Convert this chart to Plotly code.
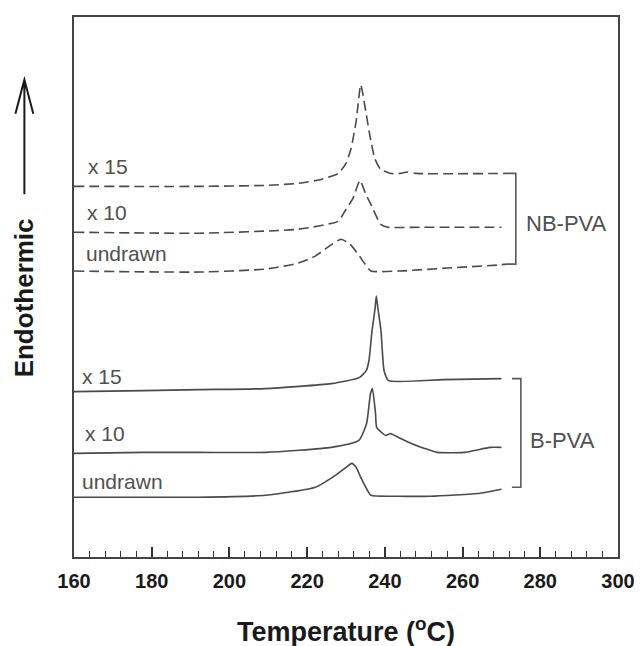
import plotly.graph_objects as go

# ---- data (temperature in degC, heat flow in arbitrary units, curves offset) ----
nb15_t = [160, 192.2, 209.3, 217.7, 223.6, 228.0, 230.0, 231.3, 232.6, 233.8, 235.1, 236.1, 237.4, 238.9, 241.5, 244, 245.8, 248, 271.4]
nb15_y = [372, 372, 373, 375, 379, 385, 395, 410, 437, 474, 447, 424, 400, 389, 385, 385, 386.5, 385, 385]

nb10_t = [160, 192.2, 217.7, 228.0, 229.7, 231.8, 233.6, 235.1, 236.4, 238.9, 240.7, 250, 270]
nb10_y = [326, 325, 329, 337, 347, 360, 378, 364, 354, 334, 331, 331, 331]

nbun_t = [160, 192.2, 209.3, 217.7, 222.1, 224.6, 228.7, 231.0, 233.1, 234.9, 236.4, 243.3, 256.1, 268.8, 271.4]
nbun_y = [287, 286, 289, 295, 302, 309, 319, 314, 304, 294, 287, 287, 290, 293, 294]

b15_t = [160, 178, 192.2, 209.3, 226.2, 233.4, 235.2, 235.9, 236.7, 237.5, 237.8, 238.2, 239.0, 239.8, 241.0, 255, 270]
b15_y = [166, 167, 168, 169, 174, 180, 187, 197, 227, 250, 262, 250, 227, 187, 177, 178, 179]

b10_t = [160, 178, 192.2, 209.3, 226.2, 233.3, 235.3, 236.3, 236.8, 237.6, 237.9, 240.2, 241.4, 243.5, 246.8, 250.2, 253.5, 260.4, 267.1, 270]
b10_y = [104, 105, 105, 105, 110, 117, 134, 164, 169, 144, 130, 122, 124, 120, 114, 109, 105, 105, 110, 110]

bun_t = [160, 192.2, 209.3, 222.1, 228.0, 230.0, 231.5, 232.6, 233.8, 235.1, 236.4, 243.3, 251.7, 264.5, 270]
bun_y = [60, 60, 62, 70, 84, 90, 94, 90, 80, 70, 62, 61, 61, 64, 68]

# group brackets
nb_bracket_t = [271.4, 273.7, 273.7, 271.4]
nb_bracket_y = [385, 385, 294, 294]
b_bracket_t = [272.7, 275.0, 275.0, 272.7]
b_bracket_y = [179, 179, 70, 70]

# curve labels
curve_labels = ["x 15", "x 10", "undrawn", "x 15", "x 10", "undrawn"]
curve_label_t = [163.0, 162.8, 162.6, 161.6, 162.3, 161.6]
curve_label_y = [392, 346, 305, 181, 124, 76]

group_labels = ["NB-PVA", "B-PVA"]
group_label_t = [275.8, 276.8]
group_label_y = [335, 117]

x_ticks = [160, 180, 200, 220, 240, 260, 280, 300]

LINE = "#4a4a4a"
FONT = "Liberation Sans, Arial, sans-serif"

fig = go.Figure()
for t, y, dash in [(nb15_t, nb15_y, "10px,5px"), (nb10_t, nb10_y, "10px,5px"), (nbun_t, nbun_y, "10px,5px"),
                   (b15_t, b15_y, "solid"), (b10_t, b10_y, "solid"), (bun_t, bun_y, "solid")]:
    fig.add_trace(go.Scatter(x=t, y=y, mode="lines",
                             line=dict(color=LINE, width=1.6, dash=dash, shape="spline", smoothing=0.5),
                             hoverinfo="skip", showlegend=False))
for t, y in [(nb_bracket_t, nb_bracket_y), (b_bracket_t, b_bracket_y)]:
    fig.add_trace(go.Scatter(x=t, y=y, mode="lines", line=dict(color="#5a5a5a", width=1.6),
                             hoverinfo="skip", showlegend=False))

for txt, t, y in zip(curve_labels, curve_label_t, curve_label_y):
    fig.add_annotation(x=t, y=y, xref="x", yref="y", text=txt, showarrow=False,
                       xanchor="left", yanchor="middle",
                       font=dict(family=FONT, size=21, color="#505050"))
for txt, t, y in zip(group_labels, group_label_t, group_label_y):
    fig.add_annotation(x=t, y=y, xref="x", yref="y", text=txt, showarrow=False,
                       xanchor="left", yanchor="middle",
                       font=dict(family=FONT, size=22, color="#505050"))

# axis titles
fig.add_annotation(x=0.5, y=-0.136, xref="paper", yref="paper",
                   text="Temperature (<sup>o</sup>C)", showarrow=False,
                   xanchor="center", yanchor="middle",
                   font=dict(family=FONT, size=27, color="#1a1a1a", weight="bold"))
fig.add_annotation(x=-0.0912, y=0.4797, xref="paper", yref="paper",
                   text="Endothermic", textangle=-90, showarrow=False,
                   xanchor="center", yanchor="middle",
                   font=dict(family=FONT, size=26, color="#1a1a1a", weight="bold"))
# arrow next to y title
fig.add_shape(type="path", xref="paper", yref="paper",
              path="M -0.0912 0.6716 L -0.0912 0.8838 M -0.1077 0.821 L -0.0912 0.8838 L -0.0748 0.821",
              line=dict(color="#1a1a1a", width=2))

fig.update_xaxes(range=[160, 300], tickvals=x_ticks, ticktext=[str(v) for v in x_ticks],
                 ticks="inside", ticklen=10, tickwidth=1.6, tickcolor="#333",
                 minor=dict(dtick=4, tick0=160, ticks="inside", ticklen=6, tickwidth=1.4, tickcolor="#333"),
                 showline=True, linecolor="#444", linewidth=2, mirror=True,
                 showgrid=False, zeroline=False, ticklabelstandoff=5,
                 tickfont=dict(family=FONT, size=20, color="#1a1a1a", weight="bold"))
fig.update_yaxes(range=[0, 542], showticklabels=False, ticks="", showline=True, linecolor="#444",
                 linewidth=2, mirror=True, showgrid=False, zeroline=False)

# page body has an 8px default margin, so the figure is sized to the remaining view
fig.update_layout(width=634, height=638, margin=dict(l=66, r=20, t=7, b=89),
                  plot_bgcolor="white", paper_bgcolor="white")

fig.write_html("out.html")
